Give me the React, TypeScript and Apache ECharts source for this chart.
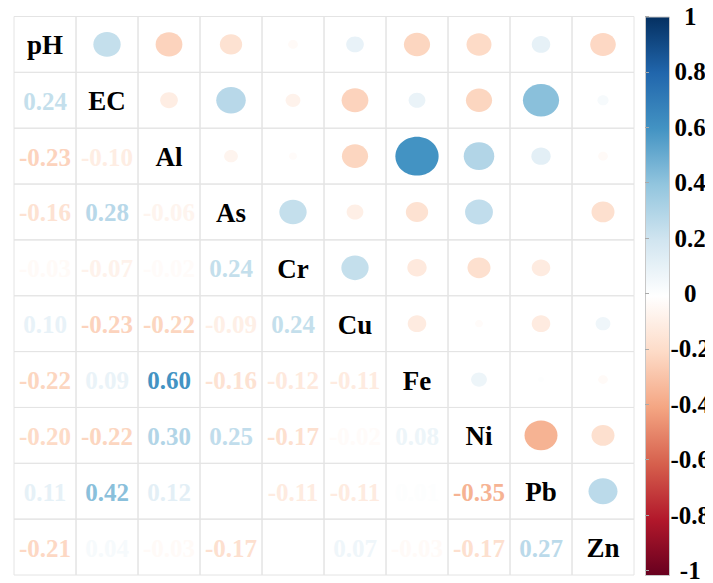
import React, { useEffect, useRef } from "react";
import * as echarts from "echarts";

// Variables on both axes (top-to-bottom, left-to-right)
const names = ["pH", "EC", "Al", "As", "Cr", "Cu", "Fe", "Ni", "Pb", "Zn"];

// Lower-triangle correlation coefficients, one row per variable
const rowEC = [0.24];
const rowAl = [-0.23, -0.1];
const rowAs = [-0.16, 0.28, -0.06];
const rowCr = [-0.03, -0.07, -0.02, 0.24];
const rowCu = [0.1, -0.23, -0.22, -0.09, 0.24];
const rowFe = [-0.22, 0.09, 0.6, -0.16, -0.12, -0.11];
const rowNi = [-0.2, -0.22, 0.3, 0.25, -0.17, -0.02, 0.08];
const rowPb = [0.11, 0.42, 0.12, 0.0, -0.11, -0.11, 0.01, -0.35];
const rowZn = [-0.21, 0.04, -0.03, -0.17, 0.0, 0.07, -0.03, -0.17, 0.27];

const lowerRows = [[], rowEC, rowAl, rowAs, rowCr, rowCu, rowFe, rowNi, rowPb, rowZn];

// Colour-bar ticks
const barTicks = [-1, -0.8, -0.6, -0.4, -0.2, 0, 0.2, 0.4, 0.6, 0.8, 1];

// Diverging red-blue palette, from -1 to 1
const palette = [
  "#67001F", "#B2182B", "#D6604D", "#F4A582", "#FDDBC7", "#FFFFFF",
  "#D1E5F0", "#92C5DE", "#4393C3", "#2166AC", "#053061",
];

function hexToRgb(h: string) {
  const n = parseInt(h.slice(1), 16);
  return [(n >> 16) & 255, (n >> 8) & 255, n & 255];
}

function colorFor(v: number) {
  const t = ((Math.max(-1, Math.min(1, v)) + 1) / 2) * (palette.length - 1);
  const i = Math.min(palette.length - 2, Math.floor(t));
  const f = t - i;
  const a = hexToRgb(palette[i]);
  const b = hexToRgb(palette[i + 1]);
  const c = a.map((x, k) => Math.round(x + (b[k] - x) * f));
  return `rgb(${c[0]},${c[1]},${c[2]})`;
}

const SERIF = '"Liberation Serif", "Times New Roman", serif';

export default function App() {
  const ref = useRef<HTMLDivElement>(null);

  useEffect(() => {
    if (!ref.current) return;
    const chart = echarts.init(ref.current, undefined, { renderer: "svg" });

    // Cells: [col, row, value, kind] with kind 0 = number, 1 = ellipse, 2 = name
    const cells: any[] = [];
    lowerRows.forEach((row, i) => {
      row.forEach((v, j) => {
        cells.push([j, i, v, 0]);
        cells.push([i, j, v, 1]);
      });
    });
    names.forEach((_, i) => cells.push([i, i, 1, 2]));

    const renderCell = (params: any, api: any) => {
      const col = api.value(0);
      const row = api.value(1);
      const v = api.value(2);
      const kind = api.value(3);
      const c = api.coord([col, row]);
      const s = api.size([1, 1]);
      const children: any[] = [
        {
          type: "rect",
          shape: { x: c[0] - s[0] / 2, y: c[1] - s[1] / 2, width: s[0], height: s[1] },
          style: { fill: "none", stroke: "#E4E4E4", lineWidth: 1 },
        },
      ];
      if (kind === 1) {
        const k = Math.sqrt(Math.abs(v)) * 0.45;
        children.push({
          type: "ellipse",
          shape: { cx: c[0], cy: c[1], rx: s[0] * k, ry: s[1] * k },
          style: { fill: colorFor(v) },
        });
      } else if (kind === 0) {
        children.push({
          type: "text",
          x: c[0],
          y: c[1] + 1,
          style: {
            text: v.toFixed(2),
            fill: colorFor(v),
            font: `bold 25px ${SERIF}`,
            align: "center",
            verticalAlign: "middle",
          },
        });
      } else {
        children.push({
          type: "text",
          x: c[0],
          y: c[1] + 1,
          style: {
            text: names[col],
            fill: "#000000",
            font: `bold 27px ${SERIF}`,
            align: "center",
            verticalAlign: "middle",
          },
        });
      }
      return { type: "group", children };
    };

    const gridTop = 16.5;
    const gridH = 558.5;

    chart.setOption({
      animation: false,
      backgroundColor: "#FFFFFF",
      grid: [
        { left: 14, top: gridTop, width: 620, height: gridH },
        { left: 645, top: gridTop, width: 24, height: gridH },
      ],
      xAxis: [
        { gridIndex: 0, type: "category", data: names, show: false },
        { gridIndex: 1, type: "value", min: 0, max: 1, show: false },
      ],
      yAxis: [
        { gridIndex: 0, type: "category", data: names, inverse: true, show: false },
        {
          gridIndex: 1,
          type: "value",
          position: "right",
          min: -1,
          max: 1,
          interval: 0.2,
          axisLine: { show: false },
          splitLine: { show: false },
          axisTick: { show: true, length: 4, lineStyle: { color: "#AAAAAA" } },
          axisLabel: {
            margin: 29,
            align: "center",
            color: "#000000",
            fontFamily: SERIF,
            fontWeight: "bold",
            fontSize: 25,
            formatter: (val: number) => {
              const hit = barTicks.find((t) => Math.abs(t - val) < 1e-6);
              return hit === undefined ? "" : String(hit);
            },
          },
        },
      ],
      graphic: [
        {
          type: "rect",
          left: 645,
          top: gridTop,
          shape: { width: 24, height: gridH },
          style: {
            fill: new echarts.graphic.LinearGradient(
              0, 0, 0, 1,
              palette
                .slice()
                .reverse()
                .map((color, i) => ({ offset: i / (palette.length - 1), color }))
            ),
            stroke: "#C8C8C8",
            lineWidth: 1,
          },
        },
      ],
      series: [
        {
          type: "custom",
          xAxisIndex: 0,
          yAxisIndex: 0,
          renderItem: renderCell,
          data: cells,
          silent: true,
        },
      ],
    });

    return () => chart.dispose();
  }, []);

  return <div ref={ref} style={{ width: 713, height: 583, marginLeft: -8, marginTop: -8 }} />;
}
